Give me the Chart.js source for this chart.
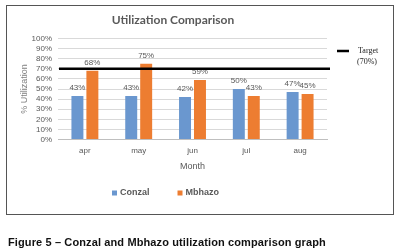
<!DOCTYPE html>
<html>
<head>
<meta charset="utf-8">
<script src="https://cdn.jsdelivr.net/npm/chart.js@4"></script>
<style>
    body { margin: 0; background: #fff; }
    #wrap { position: relative; width: 400px; height: 251px; overflow: hidden; }
    #chartUtil { position: absolute; left: 0; top: 0; }
    #frame { position: absolute; left: 6px; top: 5px; width: 386px; height: 208px; border: 1px solid #555; pointer-events: none; }
    #caption { position: absolute; left: 8px; top: 236px; font: bold 11px "Liberation Sans", Arial, sans-serif; letter-spacing: 0.12px; color: #111; white-space: nowrap; }
</style>
</head>
<body>
<div id="wrap">
    <canvas id="chartUtil" width="400" height="216"></canvas>
    <div id="frame"></div>
    <div id="caption">Figure 5 – Conzal and Mbhazo utilization comparison graph</div>
</div>
<script>
    var months = ['apr', 'may', 'jun', 'jul', 'aug'];
    var conzal = [43, 43, 42, 50, 47];
    var mbhazo = [68, 75, 59, 43, 45];
    var target = [70];
    var gris = '#595959';
    var fuente = '"Liberation Sans", Arial, sans-serif';

    // etiquetas de valor encima de cada barra
    const valueLabels = {
        id: 'valueLabels',
        afterDatasetsDraw(chart) {
            const ctx = chart.ctx;
            ctx.save();
            ctx.font = '8px ' + fuente;
            ctx.fillStyle = gris;
            ctx.textAlign = 'center';
            ctx.textBaseline = 'bottom';
            chart.data.datasets.forEach((ds, i) => {
                chart.getDatasetMeta(i).data.forEach((bar, j) => {
                    ctx.fillText(ds.data[j] + '%', bar.x, bar.y - 4);
                });
            });
            ctx.restore();
        }
    };

    // linea de meta (70%) y su leyenda a la derecha
    const targetLine = {
        id: 'targetLine',
        afterDatasetsDraw(chart) {
            const ctx = chart.ctx;
            const area = chart.chartArea;
            const y = chart.scales.y.getPixelForValue(target[0]);
            ctx.save();
            ctx.strokeStyle = '#000';
            ctx.lineWidth = 2.5;
            ctx.beginPath();
            ctx.moveTo(area.left + 1, y);
            ctx.lineTo(area.right + 3, y);
            ctx.stroke();

            ctx.beginPath();
            ctx.moveTo(area.right + 10, 51);
            ctx.lineTo(area.right + 22, 51);
            ctx.stroke();
            ctx.font = '8px "Liberation Serif", "Times New Roman", serif';
            ctx.fillStyle = '#222';
            ctx.textBaseline = 'middle';
            ctx.fillText('Target', area.right + 31, 51);
            ctx.fillText('(' + target[0] + '%)', area.right + 30, 62);
            ctx.restore();
        }
    };

    // leyenda de abajo, dibujada a mano para controlar el espacio entre items
    const bottomLegend = {
        id: 'bottomLegend',
        afterDraw(chart) {
            const ctx = chart.ctx;
            const y = 193;
            const gap = 28;
            ctx.save();
            ctx.font = 'bold 9px ' + fuente;
            ctx.textBaseline = 'middle';
            const items = chart.data.datasets.map(ds => ({ text: ds.label, color: ds.backgroundColor, w: ctx.measureText(ds.label).width }));
            let total = items.reduce((s, it) => s + 8 + it.w, 0) + gap * (items.length - 1);
            let x = 165.5 - total / 2;
            items.forEach(it => {
                ctx.fillStyle = it.color;
                ctx.fillRect(x, y - 2.5, 5, 5);
                ctx.fillStyle = gris;
                ctx.fillText(it.text, x + 8, y);
                x += 8 + it.w + gap;
            });
            ctx.restore();
        }
    };

    const cu = document.getElementById('chartUtil');
    var chartUtil = new Chart(cu, {
        type: 'bar',
        plugins: [valueLabels, targetLine, bottomLegend],
        data: {
            labels: months,
            datasets: [
                { label: 'Conzal', data: conzal, backgroundColor: '#6a97cf' },
                { label: 'Mbhazo', data: mbhazo, backgroundColor: '#ed7d31' },
            ],
        },
        options: {
            responsive: false,
            animation: false,
            categoryPercentage: 0.556,
            barPercentage: 0.8,
            layout: { padding: { left: 19, right: 73, top: 5, bottom: 40 } },
            scales: {
                y: {
                    min: 0,
                    max: 100,
                    ticks: {
                        stepSize: 10,
                        autoSkip: false,
                        color: gris,
                        font: { size: 8, family: fuente },
                        callback: (v) => v + '%',
                        padding: 6,
                    },
                    grid: { color: '#d9d9d9', drawTicks: false },
                    border: { display: false },
                    title: {
                        display: true,
                        text: '% Utilization',
                        color: '#7f7f7f',
                        padding: 0,
                        font: { size: 9, family: fuente },
                    },
                    afterFit: (s) => { s.width = 39; },
                },
                x: {
                    ticks: {
                        color: gris,
                        font: { size: 8, family: fuente },
                        padding: 6,
                    },
                    grid: { display: false, drawTicks: false },
                    border: { color: '#bfbfbf' },
                    title: {
                        display: true,
                        text: 'Month',
                        color: gris,
                        padding: { top: 0, bottom: 4 },
                        font: { size: 9, family: fuente },
                    },
                },
            },
            plugins: {
                title: {
                    display: true,
                    text: 'Utilization Comparison',
                    color: gris,
                    font: { size: 12, weight: 'bold', family: 'Lato, sans-serif' },
                    padding: { top: 8, bottom: 11 },
                },
                legend: { display: false },
                tooltip: { enabled: false },
            },
        },
    });
</script>
</body>
</html>
